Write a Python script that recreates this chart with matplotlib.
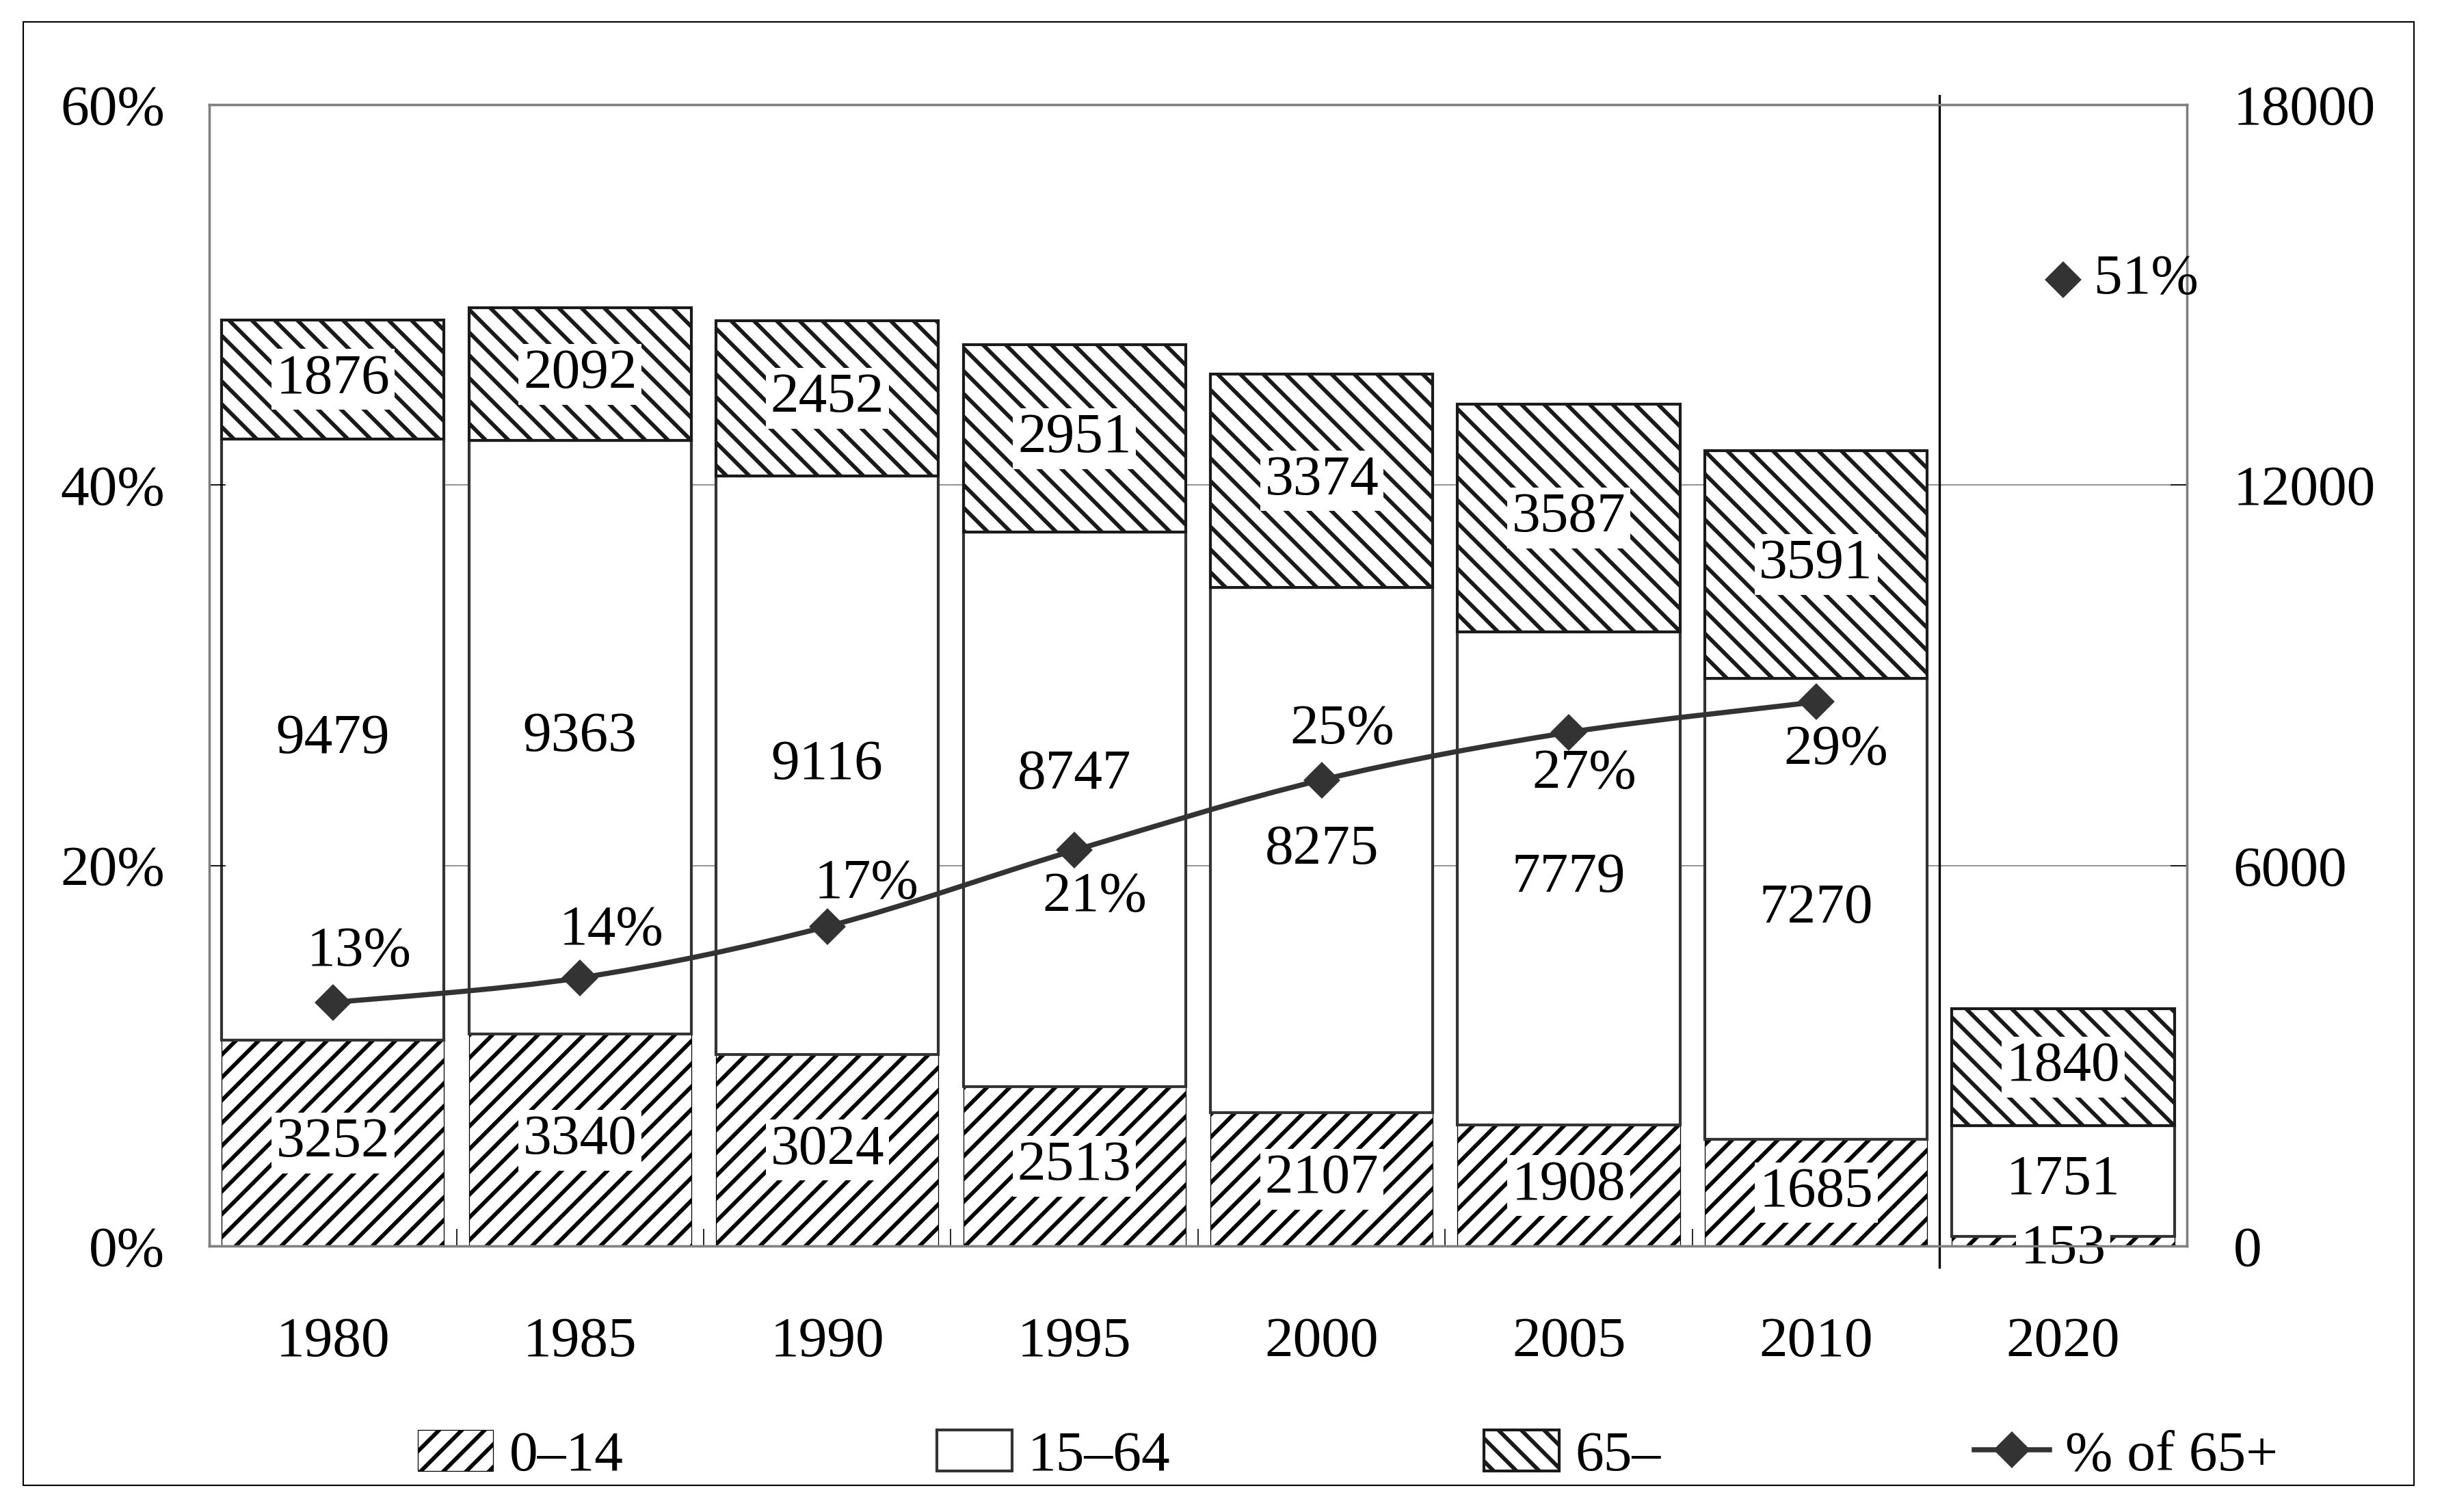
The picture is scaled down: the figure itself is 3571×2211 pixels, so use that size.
import matplotlib
matplotlib.use('Agg')
import matplotlib.pyplot as plt
from matplotlib.path import Path
from matplotlib.patches import PathPatch, Rectangle
from matplotlib.lines import Line2D
import numpy as np

# 字体与阴影线
plt.rcParams['font.family'] = ['Liberation Serif', 'DejaVu Serif']
plt.rcParams['hatch.linewidth'] = 1.4

# 数据
years = ['1980', '1985', '1990', '1995', '2000', '2005', '2010', '2020']
age_0_14 = [3252, 3340, 3024, 2513, 2107, 1908, 1685, 153]
age_15_64 = [9479, 9363, 9116, 8747, 8275, 7779, 7270, 1751]
age_65 = [1876, 2092, 2452, 2951, 3374, 3587, 3591, 1840]

share_65 = [12.8, 14.1, 16.8, 20.8, 24.5, 27.0, 28.6]          # 1980-2010, connected line
share_65_labels = ['13%', '14%', '17%', '21%', '25%', '27%', '29%']
share_2020 = 50.8
share_2020_label = '51%'

legend_labels = ['0\u201314', '15\u201364', '65\u2013', '% of 65+']

# label placement (offset points)
line_label_offsets = [(9.3, 17.6), (11, 16.5), (13.7, 14.8), (7.1, -16.5),
                      (7.1, 17.6), (5.5, -14.8), (7.1, -17)]
mid_nudge = [0, 0, 0, 12, 0, 0, 0, 0]
low_nudge = [0, 0, 0, 0, 0, 0, 0, -3]

FS = 20
DARK = '#333333'
GRAY = '#808080'


def smooth_path(xs, ys):
    # Catmull-Rom 曲线转 Bezier, 类似 Excel 平滑线
    pts = np.column_stack([xs, ys]).astype(float)
    n = len(pts)
    verts = [pts[0]]
    codes = [Path.MOVETO]
    for i in range(n - 1):
        p0 = pts[i - 1] if i > 0 else pts[i]
        p1 = pts[i]
        p2 = pts[i + 1]
        p3 = pts[i + 2] if i + 2 < n else pts[i + 1]
        verts += [p1 + (p2 - p0) / 6, p2 - (p3 - p1) / 6, p2]
        codes += [Path.CURVE4] * 3
    return Path(verts, codes)


def population_chart():
    fig = plt.figure(figsize=(3571 / 300, 2211 / 300))
    ax = fig.add_axes([0.0857, 0.1759, 0.8098, 0.7549])
    x = np.arange(len(years))

    label_box = dict(boxstyle='square,pad=0.08', fc='white', ec='none')

    b1 = ax.bar(x, age_0_14, width=0.9, facecolor='white', edgecolor='black',
                hatch='///', linewidth=0.3, zorder=2)
    bottom2 = np.array(age_0_14)
    b2 = ax.bar(x, age_15_64, width=0.9, bottom=bottom2, facecolor='white',
                edgecolor=DARK, linewidth=1.0, zorder=2)
    bottom3 = bottom2 + np.array(age_15_64)
    b3 = ax.bar(x, age_65, width=0.9, bottom=bottom3, facecolor='white',
                edgecolor='#1a1a1a', hatch='\\\\\\', linewidth=1.0, zorder=2)

    # 柱内数值
    for i in range(len(years)):
        segs = [(0, age_0_14[i], low_nudge[i]),
                (bottom2[i], age_15_64[i], mid_nudge[i]),
                (bottom3[i], age_65[i], 0)]
        for b, v, dy in segs:
            ax.annotate(str(v), (x[i], b + v / 2), xytext=(0, dy),
                        textcoords='offset points', ha='center', va='center',
                        fontsize=FS, bbox=label_box, zorder=4)

    ax.set_xlim(-0.5, len(years) - 0.5)
    ax.set_ylim(0, 18000)
    ax.set_xticks(x)
    ax.set_xticklabels(years)
    ax.set_xticks(np.arange(-0.5, len(years), 1), minor=True)
    ax.set_yticks([0, 6000, 12000, 18000])
    ax.set_axisbelow(True)
    ax.yaxis.grid(True, color=GRAY, linewidth=0.4)

    # 百分比轴 (放到左边)
    ax2 = ax.twinx()
    ax2.set_ylim(0, 60)
    ax2.set_yticks([0, 20, 40, 60])
    ax2.set_yticklabels(['0%', '20%', '40%', '60%'])
    ax2.yaxis.tick_left()
    ax.yaxis.tick_right()

    ax.tick_params(axis='y', direction='in', length=5.8, width=0.4, pad=16.3,
                   labelsize=FS, right=True, left=False)
    ax2.tick_params(axis='y', direction='in', length=5.8, width=0.4, pad=15.6,
                    labelsize=FS, left=True, right=False)
    ax.tick_params(axis='x', which='major', length=0, pad=24.7, labelsize=FS)
    ax.tick_params(axis='x', which='minor', direction='in', length=6, width=0.4)

    for a in (ax, ax2):
        for s in a.spines.values():
            s.set_color(GRAY)
            s.set_linewidth(0.8)

    # 分隔线 2010 | 2020
    ax2.plot([6.5, 6.5], [-0.0186, 1.008], transform=ax2.get_xaxis_transform(),
             color='black', linewidth=0.8, clip_on=False)

    # 65+ 比例折线
    xl = x[:len(share_65)]
    ax2.add_patch(PathPatch(smooth_path(xl, share_65), facecolor='none',
                            edgecolor=DARK, linewidth=1.8, zorder=5))
    ax2.plot(xl, share_65, linestyle='none', marker='D', ms=8, color=DARK, zorder=6)
    ax2.plot([x[-1]], [share_2020], linestyle='none', marker='D', ms=8,
             color=DARK, zorder=6)
    for xi, yi, lbl, off in zip(xl, share_65, share_65_labels, line_label_offsets):
        ax2.annotate(lbl, (xi, yi), xytext=off, textcoords='offset points',
                     ha='center', va='center', fontsize=FS, zorder=7)
    ax2.annotate(share_2020_label, (x[-1], share_2020), xytext=(10.8, 0),
                 textcoords='offset points', ha='left', va='center',
                 fontsize=FS, zorder=7)

    # 图例
    line_handle = Line2D([], [], color=DARK, linewidth=1.8, marker='D', ms=8)
    fig.legend([b1, b2, b3, line_handle], legend_labels, loc='center',
               bbox_to_anchor=(0.552, 0.037), ncol=4, frameon=False,
               fontsize=FS, handlelength=1.32, handleheight=0.74,
               handletextpad=0.28, columnspacing=5.5)

    # 外框
    fig.add_artist(Rectangle((0.0095, 0.0176), 0.979, 0.968,
                             transform=fig.transFigure, fill=False,
                             edgecolor='black', linewidth=0.5))

    fig.savefig('out.png', dpi=300)


if __name__ == '__main__':
    population_chart()
